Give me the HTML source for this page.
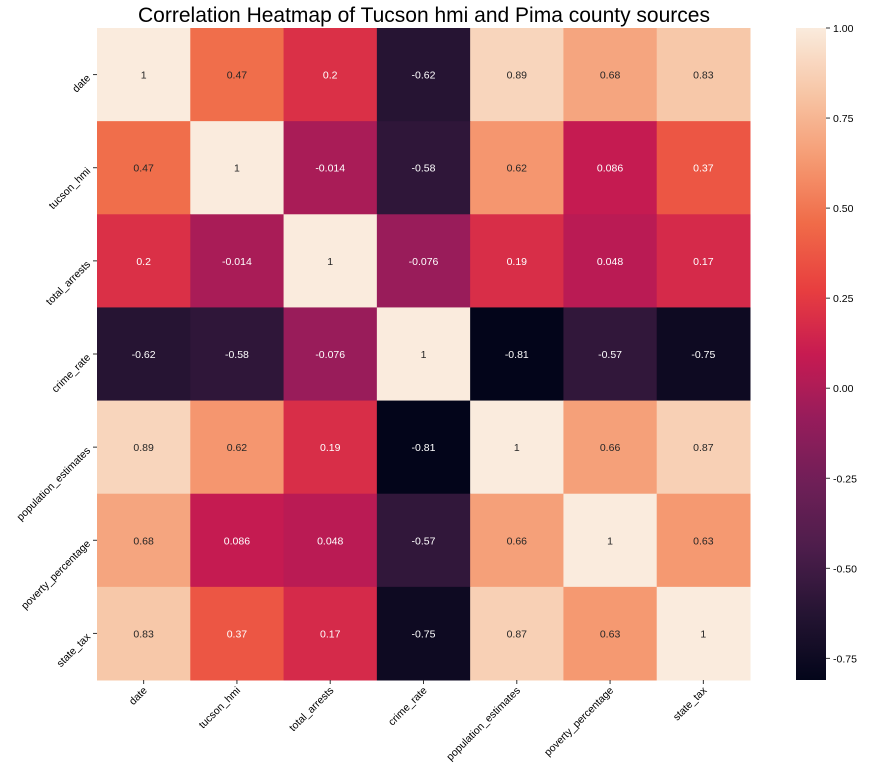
<!DOCTYPE html>
<html><head><meta charset="utf-8"><style>
body{margin:0;background:#fff;}
svg{display:block;font-family:"Liberation Sans","DejaVu Sans",sans-serif;}
</style></head><body>
<svg id="chart" width="872" height="778" viewBox="0 0 872 778" xmlns="http://www.w3.org/2000/svg">
<defs><linearGradient id="cbgrad" x1="0" y1="1" x2="0" y2="0"></linearGradient></defs>
<text x="424" y="22" text-anchor="middle" font-size="21">Correlation Heatmap of Tucson hmi and Pima county sources</text>
<g id="cells"></g><g id="xl"></g><g id="yl"></g><g id="cb"></g>
</svg>
<script>
const labels = ["date","tucson_hmi","total_arrests","crime_rate","population_estimates","poverty_percentage","state_tax"];
const row0 = [1,0.47,0.2,-0.62,0.89,0.68,0.83];
const row1 = [0.47,1,-0.014,-0.58,0.62,0.086,0.37];
const row2 = [0.2,-0.014,1,-0.076,0.19,0.048,0.17];
const row3 = [-0.62,-0.58,-0.076,1,-0.81,-0.57,-0.75];
const row4 = [0.89,0.62,0.19,-0.81,1,0.66,0.87];
const row5 = [0.68,0.086,0.048,-0.57,0.66,1,0.63];
const row6 = [0.83,0.37,0.17,-0.75,0.87,0.63,1];
const values = [row0,row1,row2,row3,row4,row5,row6];
const cbTicks = [1.0,0.75,0.5,0.25,0.0,-0.25,-0.5,-0.75];
const vmin = -0.81, vmax = 1.0;

const NS="http://www.w3.org/2000/svg";
const X0=97,X1=750,Y0=28,Y1=680;
const n=labels.length, cw=(X1-X0)/n, ch=(Y1-Y0)/n;
const stops=[[0,"#03051a"],[0.1,"#241432"],[0.2,"#4c1d4b"],[0.3,"#6e1f57"],[0.4,"#961c5b"],[0.5,"#c71b51"],[0.6,"#e83f3f"],[0.7,"#f06b48"],[0.8,"#f59b73"],[0.9,"#f7c6a6"],[1,"#faebdd"]];
function hex(h){return [1,3,5].map(i=>parseInt(h.substr(i,2),16));}
function cmap(t){t=Math.max(0,Math.min(1,t));for(let i=1;i<stops.length;i++){if(t<=stops[i][0]){const a=stops[i-1],b=stops[i];const f=(t-a[0])/(b[0]-a[0]);const ca=hex(a[1]),cb=hex(b[1]);return ca.map((v,k)=>Math.round(v+(cb[k]-v)*f));}}return hex(stops[stops.length-1][1]);}
function lum(c){const l=c.map(v=>{v/=255;return v<=0.03928?v/12.92:Math.pow((v+0.055)/1.055,2.4);});return 0.2126*l[0]+0.7152*l[1]+0.0722*l[2];}
function xs(i){return X0+i*cw;} function ys(j){return Y0+j*ch;}
function cy(v){return Y0+(vmax-v)/(vmax-vmin)*(Y1-Y0);}
const cells=document.getElementById('cells');
values.forEach((row,r)=>row.forEach((v,c)=>{
 const col=cmap((v-vmin)/(vmax-vmin));
 const rect=document.createElementNS(NS,'rect');
 
 
 rect.setAttribute('x',xs(c));rect.setAttribute('y',ys(r));rect.setAttribute('width',cw+0.5);rect.setAttribute('height',ch+0.5);
 rect.setAttribute('fill','rgb('+col.join(',')+')');cells.appendChild(rect);
 const t=document.createElementNS(NS,'text');
 
 
 t.setAttribute('x',xs(c)+cw/2);t.setAttribute('y',ys(r)+ch/2+4);t.setAttribute('text-anchor','middle');t.setAttribute('font-size','10.5');
 t.setAttribute('fill',lum(col)>0.27?'#262626':'#ffffff');t.textContent=String(v);cells.appendChild(t);
}));
const xl=document.getElementById('xl'),yl=document.getElementById('yl');
labels.forEach((l,i)=>{
 const x=xs(i)+cw/2;
 const tk=document.createElementNS(NS,'line');tk.setAttribute('x1',x);tk.setAttribute('x2',x);tk.setAttribute('y1',Y1);tk.setAttribute('y2',Y1+4);tk.setAttribute('stroke','#333');xl.appendChild(tk);
 const t=document.createElementNS(NS,'text');
 
 
 t.setAttribute('font-size','10.5');t.setAttribute('text-anchor','end');
 t.setAttribute('transform','translate('+(x+4)+','+(Y1+11)+') rotate(-45)');t.textContent=l;xl.appendChild(t);
 const y=ys(i)+ch/2;
 const tk2=document.createElementNS(NS,'line');tk2.setAttribute('x1',X0-4);tk2.setAttribute('x2',X0);tk2.setAttribute('y1',y);tk2.setAttribute('y2',y);tk2.setAttribute('stroke','#333');yl.appendChild(tk2);
 const t2=document.createElementNS(NS,'text');
 
 
 t2.setAttribute('font-size','10.5');t2.setAttribute('text-anchor','end');
 t2.setAttribute('transform','translate('+(X0-6)+','+(y+4)+') rotate(-45)');t2.textContent=l;yl.appendChild(t2);
});
const g=document.getElementById('cbgrad');
for(let k=0;k<=40;k++){const s=document.createElementNS(NS,'stop');s.setAttribute('offset',k/40);s.setAttribute('stop-color','rgb('+cmap(k/40).join(',')+')');g.appendChild(s);}
const cb=document.getElementById('cb');
const bar=document.createElementNS(NS,'rect');


bar.setAttribute('x',796);bar.setAttribute('y',Y0);bar.setAttribute('width',30);bar.setAttribute('height',Y1-Y0);bar.setAttribute('fill','url(#cbgrad)');cb.appendChild(bar);
cbTicks.forEach(v=>{
 const y=cy(v);
 const tk=document.createElementNS(NS,'line');tk.setAttribute('x1',826);tk.setAttribute('x2',830);tk.setAttribute('y1',y);tk.setAttribute('y2',y);tk.setAttribute('stroke','#333');cb.appendChild(tk);
 const t=document.createElementNS(NS,'text');
 
 
 t.setAttribute('x',833);t.setAttribute('y',y+4);t.setAttribute('font-size','10.5');t.textContent=v.toFixed(2);cb.appendChild(t);
});
</script>
</body></html>
